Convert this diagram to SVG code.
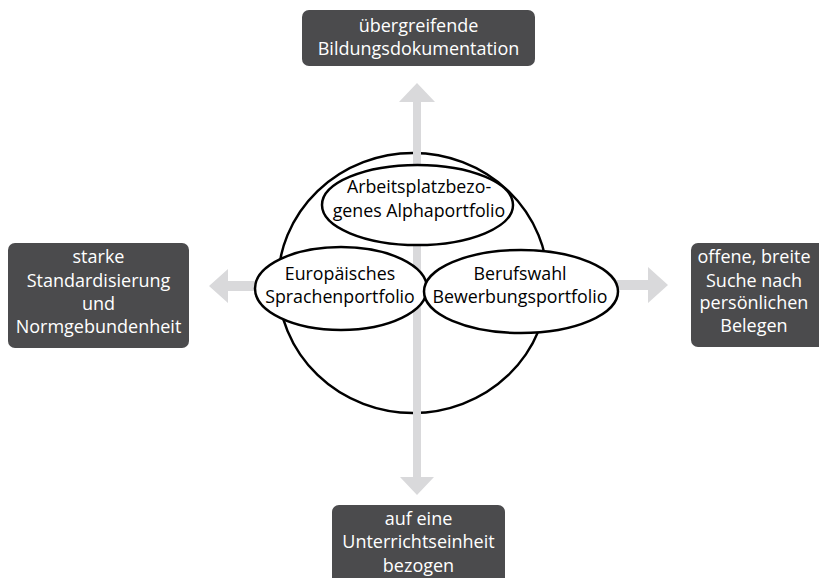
<svg xmlns="http://www.w3.org/2000/svg" width="819" height="578" viewBox="0 0 819 578">
<style>
.box{fill:#4b4b4d}
.bt{fill:#ffffff;font-family:"Open Sans","Liberation Sans",sans-serif;font-size:18px;text-anchor:middle}
.el{fill:#ffffff;stroke:#000000;stroke-width:2.5}
.et{fill:#000000;font-family:"Open Sans","Liberation Sans",sans-serif;font-size:17.8px;text-anchor:middle}
.ar{fill:#d9d9db}
</style>
<rect width="819" height="578" fill="#ffffff"/>
<g id="circle"><ellipse cx="413" cy="283" rx="135" ry="130" fill="none" stroke="#000" stroke-width="2.5"/></g>
<g id="connectors">
<polygon class="ar" points="413,283 413,102 399,102 417,83 435,102 421,102 421,283"/>
<polygon class="ar" points="413,283 413,477 400,477 417,495 434,477 421,477 421,283"/>
<polygon class="ar" points="262,281 228,281 228,269 209,286 228,303 228,291 262,291"/>
<polygon class="ar" points="600,280 648,280 648,267 668,285 648,303 648,290 600,290"/>
</g>
<g id="n-alpha"><ellipse class="el" cx="417.5" cy="205" rx="95.5" ry="40"/>
<text class="et" x="419" y="193">Arbeitsplatzbezo-</text><text class="et" x="419" y="217">genes Alphaportfolio</text></g>
<g id="n-euro"><ellipse class="el" cx="341" cy="288.5" rx="86" ry="41.5"/>
<text class="et" x="340" y="280">Europäisches</text><text class="et" x="340" y="303">Sprachenportfolio</text></g>
<g id="n-beruf"><ellipse class="el" cx="521" cy="291.5" rx="97" ry="41.5"/>
<text class="et" x="520" y="280">Berufswahl</text><text class="et" x="520" y="303">Bewerbungsportfolio</text></g>
<g id="n-top"><rect class="box" x="302" y="10" width="233" height="56" rx="7"/>
<text class="bt" x="418.5" y="32">übergreifende</text><text class="bt" x="418.5" y="55">Bildungsdokumentation</text></g>
<g id="n-left"><rect class="box" x="8" y="243" width="181" height="105" rx="7"/>
<text class="bt" x="98.5" y="263">starke</text><text class="bt" x="98.5" y="287">Standardisierung</text><text class="bt" x="98.5" y="310">und</text><text class="bt" x="98.5" y="333">Normgebundenheit</text></g>
<g id="n-right"><rect class="box" x="691" y="243" width="134" height="104" rx="7"/>
<text class="bt" x="754" y="263">offene, breite</text><text class="bt" x="754" y="287">Suche nach</text><text class="bt" x="754" y="309">persönlichen</text><text class="bt" x="754" y="332">Belegen</text></g>
<g id="n-bottom"><rect class="box" x="332" y="505" width="173" height="85" rx="7"/>
<text class="bt" x="418.5" y="525">auf eine</text><text class="bt" x="418.5" y="548">Unterrichtseinheit</text><text class="bt" x="418.5" y="572">bezogen</text></g>
</svg>
